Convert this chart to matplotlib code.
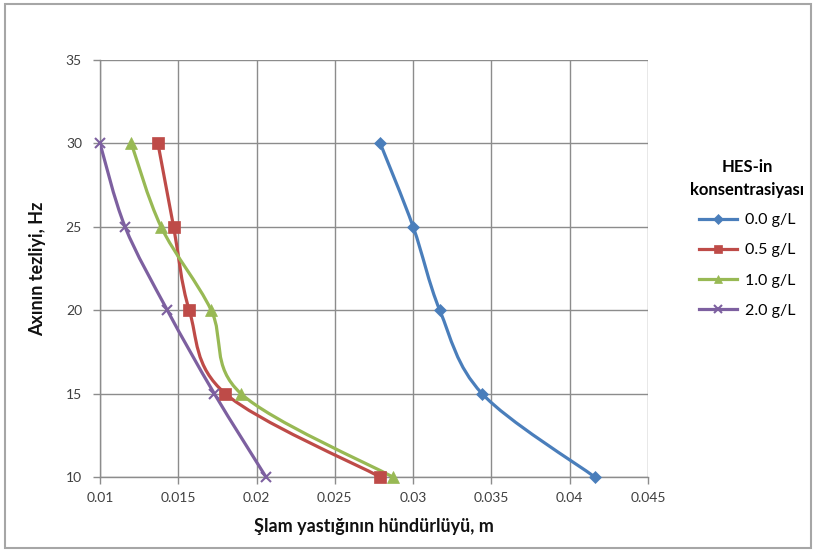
import numpy as np
import matplotlib.pyplot as plt
from matplotlib.path import Path
from matplotlib.patches import PathPatch, Rectangle
from matplotlib.lines import Line2D

plt.rcParams['font.family'] = ['Lato', 'DejaVu Sans']

# Flow frequency, Hz
freq = [30, 25, 20, 15, 10]

# Sludge blanket height (m) for each HES concentration
h_00 = [0.0279, 0.0300, 0.0317, 0.0344, 0.0416]
h_05 = [0.0137, 0.0147, 0.0157, 0.0180, 0.0279]
h_10 = [0.0120, 0.0139, 0.0171, 0.0190, 0.0287]
h_20 = [0.0100, 0.0116, 0.0143, 0.0173, 0.0206]

labels = ['0.0 g/L', '0.5 g/L', '1.0 g/L', '2.0 g/L']
colors = ['#4A7EBB', '#BE4B48', '#98B954', '#7D60A0']
markers = ['D', 's', '^', 'x']
msizes = [6, 8, 8, 7]


def smooth_path(x, y):
    # Excel-style smoothed line: cubic Bezier through every point
    p = np.column_stack([x, y])
    n = len(p)
    verts = [p[0]]
    codes = [Path.MOVETO]
    for i in range(n - 1):
        p0 = p[i - 1] if i > 0 else p[i]
        p3 = p[i + 2] if i + 2 < n else p[i + 1]
        c1 = p[i] + (p[i + 1] - p0) / 6
        c2 = p[i + 1] - (p3 - p[i]) / 6
        verts += [c1, c2, p[i + 1]]
        codes += [Path.CURVE4] * 3
    return Path(verts, codes)


fig = plt.figure(figsize=(8.15, 5.51), dpi=100)
ax = fig.add_axes([100 / 815, 74 / 551, 548 / 815, 417 / 551])

# outer chart frame
fig.patches.append(Rectangle((5 / 815, 3 / 551), 806 / 815, 544 / 551,
                             transform=fig.transFigure, fill=False,
                             edgecolor='#A6A6A6', linewidth=1.5))

handles = []
for xs, c, m, ms, lab in zip([h_00, h_05, h_10, h_20], colors, markers, msizes, labels):
    ax.add_patch(PathPatch(smooth_path(xs, freq), facecolor='none',
                           edgecolor=c, linewidth=2.3, zorder=3))
    mew = 1.5 if m == 'x' else 0.5
    ax.plot(xs, freq, linestyle='none', marker=m, markersize=ms, color=c,
            markeredgewidth=mew, zorder=4, clip_on=False)
    handles.append(Line2D([], [], color=c, linewidth=2.3, marker=m,
                          markersize=ms * 0.8, markeredgewidth=mew, label=lab))

ax.set_xlim(0.01, 0.045)
ax.set_ylim(10, 35)
ax.set_xticks(np.arange(0.01, 0.0451, 0.005))
ax.set_xticklabels(['0.01', '0.015', '0.02', '0.025', '0.03', '0.035', '0.04', '0.045'])
ax.set_yticks([10, 15, 20, 25, 30, 35])

ax.grid(True, color='#8C8C8C', linewidth=1)
ax.set_axisbelow(True)
for s in ['top', 'right']:
    ax.spines[s].set_visible(False)
for s in ['left', 'bottom']:
    ax.spines[s].set_color('#8C8C8C')
    ax.spines[s].set_linewidth(1)
ax.tick_params(axis='both', colors='#8C8C8C', length=5, width=1,
               labelcolor='#404040', labelsize=10)
ax.tick_params(axis='x', pad=6)
ax.tick_params(axis='y', pad=8)

ax.set_xlabel('Şlam yastığının hündürlüyü, m', fontsize=13, fontweight='bold',
              color='#111111', labelpad=10)
ax.set_ylabel('Axının tezliyi, Hz', fontsize=13, fontweight='bold',
              color='#111111', labelpad=14)

leg = fig.legend(handles=handles, loc='upper left', bbox_to_anchor=(676 / 815, 1 - 145 / 551),
                 frameon=False, title='HES-in\nkonsentrasiyası', fontsize=11.5,
                 handlelength=2.4, labelspacing=1.0, handletextpad=0.5)
leg.get_title().set_fontweight('bold')
leg.get_title().set_fontsize(12)
leg.get_title().set_multialignment('center')
leg.get_title().set_linespacing(1.5)
leg._legend_box.sep = 11

fig.savefig('out.png', dpi=100)
